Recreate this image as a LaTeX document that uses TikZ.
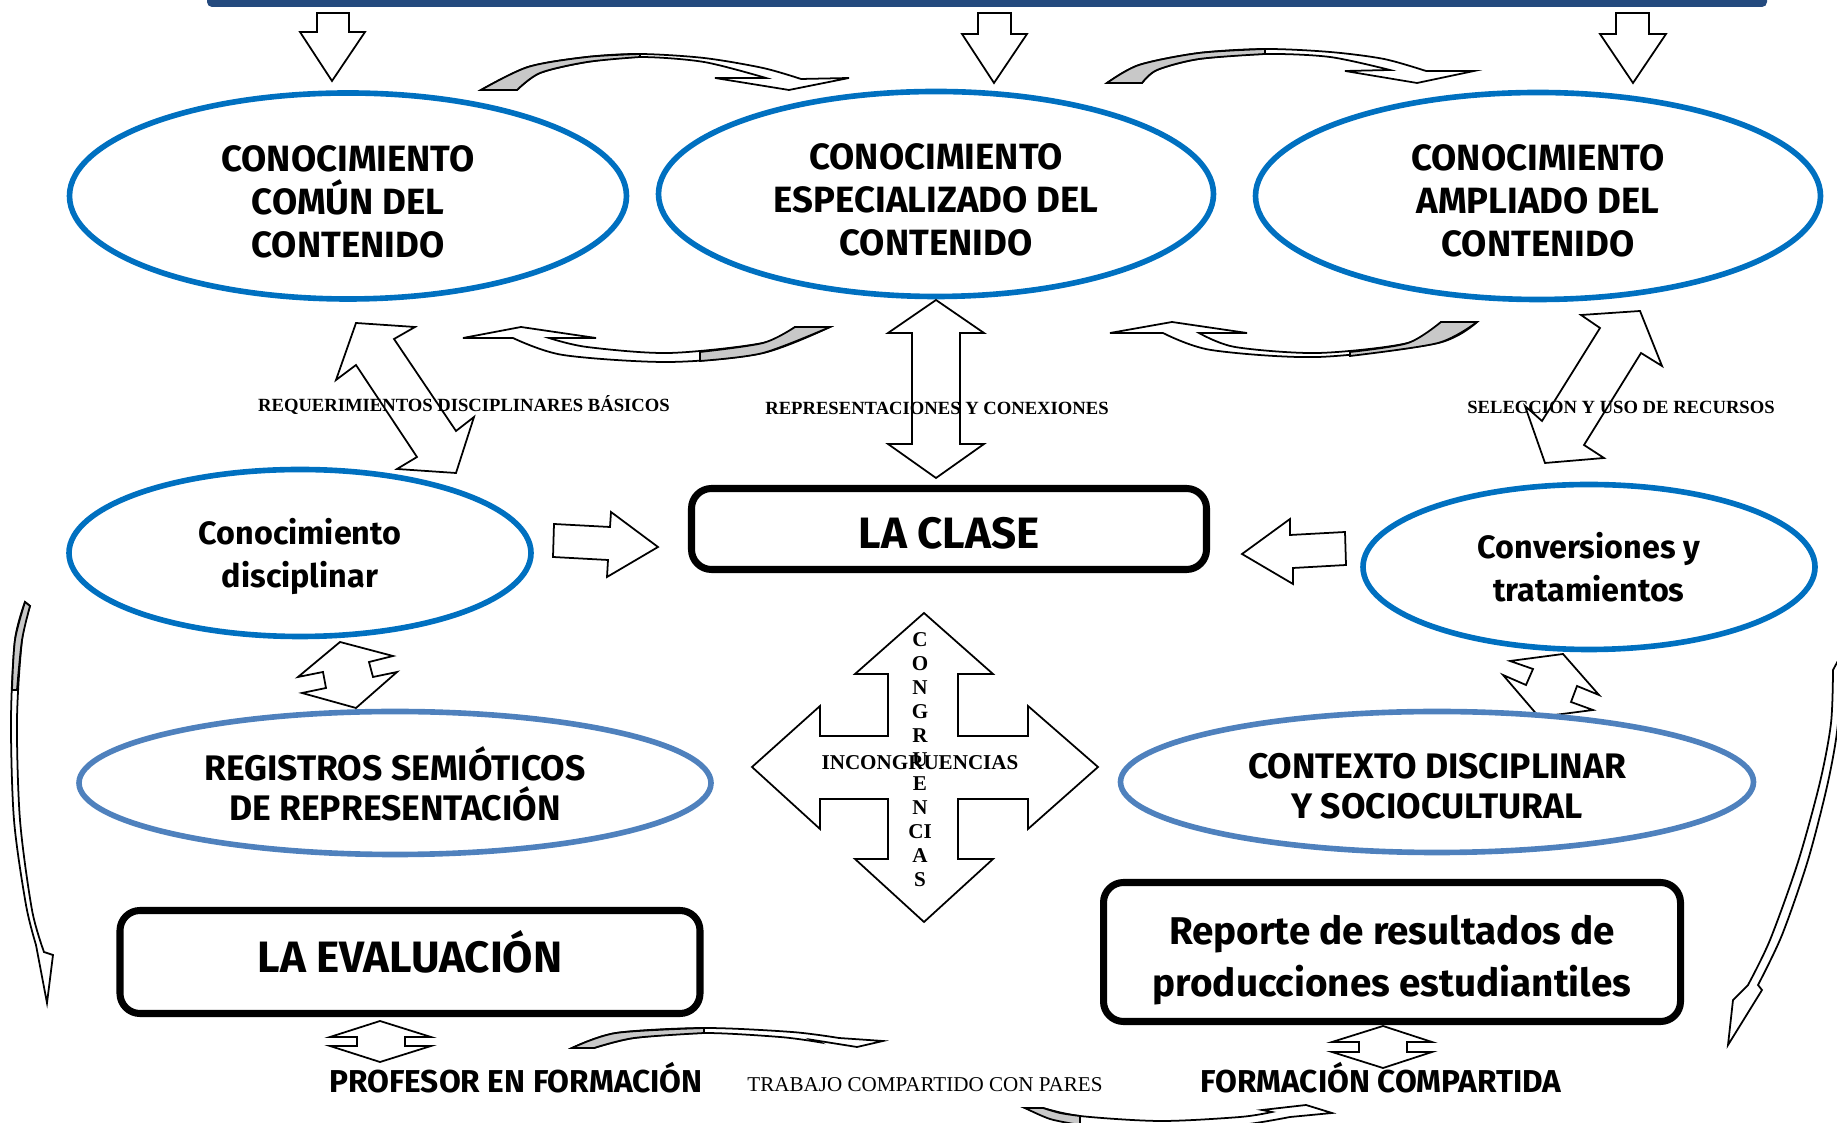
\documentclass[tikz,border=0pt]{standalone}
\usepackage{fontspec}
\setmainfont{Fira Sans}
\newfontfamily\tms{Liberation Serif}
\usetikzlibrary{shapes.geometric}
\definecolor{barblue}{RGB}{36,74,126}
\definecolor{ringblue}{RGB}{0,112,192}
\definecolor{paleblue}{RGB}{79,129,189}
\definecolor{shade}{RGB}{200,200,200}
\begin{document}
\begin{tikzpicture}[x=0.1mm, y=-0.1mm,
  ell/.style={ellipse, draw=ringblue, line width=1.6pt, inner sep=0pt},
  pale/.style={ell, draw=paleblue},
  box/.style={draw, rounded corners=2mm, line width=2pt, inner sep=0pt},
  blk/.style={draw, fill=white, line width=0.5pt},
  shd/.style={draw, fill=shade, line width=0.5pt},
  fbig/.style={font=\fontsize{10.4}{12.2}\selectfont\bfseries, align=center},
  fmid/.style={font=\fontsize{9.2}{12.4}\selectfont\bfseries, align=center},
  fsem/.style={font=\fontsize{10.1}{11.4}\selectfont\bfseries, align=center},
  fbox/.style={font=\fontsize{12.5}{14}\selectfont\bfseries, align=center},
  frep/.style={font=\fontsize{11}{14.8}\selectfont\bfseries, align=center},
  fbot/.style={font=\fontsize{9}{11}\selectfont\bfseries},
  ftimes/.style={font=\tms\bfseries\fontsize{5.3}{6}\selectfont, inner sep=0pt}]
\useasboundingbox (0,0) rectangle (1837,1123);
\fill[barblue, rounded corners=0.5mm] (207,-20) rectangle (1767,7);

\draw[blk] (317,13) -- (349,13) -- (349,32) -- (365,32) -- (332,81) -- (300,32) -- (317,32) -- cycle;
\draw[blk] (978,13) -- (1011,13) -- (1011,34) -- (1027,34) -- (994,83) -- (962,34) -- (978,34) -- cycle;
\draw[blk] (1616,13) -- (1649,13) -- (1649,34) -- (1666,34) -- (1633,83) -- (1600,34) -- (1616,34) -- cycle;

\draw[blk] plot[smooth] coordinates {(517,90) (540,73) (587,62) (640,57) (704,62) (766,78)} -- (715,78) -- (789,90) -- (849,78) -- (801,79) -- plot[smooth] coordinates {(801,79) (763,68) (704,58) (640,54) (587,57) (528,67) (481,90)} -- cycle;
\draw[shd] plot[smooth] coordinates {(481,90) (528,67) (587,57) (640,54)} -- plot[smooth] coordinates {(640,57) (587,62) (540,73) (517,90)} -- cycle;
\draw[blk] plot[smooth] coordinates {(1142,83) (1157,70) (1199,59) (1265,54) (1330,57) (1390,70)} -- (1345,71) -- (1417,83) -- (1474,71) -- (1426,71) -- plot[smooth] coordinates {(1426,71) (1384,59) (1330,52) (1265,49) (1199,53) (1139,65) (1107,83)} -- cycle;
\draw[shd] plot[smooth] coordinates {(1107,83) (1139,65) (1199,53) (1265,49)} -- plot[smooth] coordinates {(1265,54) (1199,59) (1157,70) (1142,83)} -- cycle;

\node[ell, minimum width=55.7mm, minimum height=20.6mm] (comun) at (348,196) {};
\node[ell, minimum width=55.5mm, minimum height=20.5mm] (espec) at (936,194) {};
\node[ell, minimum width=56.5mm, minimum height=20.7mm] (ampl) at (1538,196) {};
\node[fbig] (comuntxt) at ([yshift=-0.55mm]comun.center) {CONOCIMIENTO\\COMÚN DEL\\CONTENIDO};
\node[fbig] (especTxt) at ([yshift=-0.55mm]espec.center) {CONOCIMIENTO\\ESPECIALIZADO DEL\\CONTENIDO};
\node[fbig] (ampltxt) at ([yshift=-0.5mm]ampl.center) {CONOCIMIENTO\\AMPLIADO DEL\\CONTENIDO};

\draw[blk] plot[smooth] coordinates {(795,327) (763,343) (669,353) (587,347) (549,338)} -- (596,338) -- (521,327) -- (463,338) -- (513,338) -- plot[smooth] coordinates {(513,338) (563,355) (669,362) (763,353) (830,327)} -- cycle;
\draw[shd] plot[smooth] coordinates {(830,327) (763,353) (700,361)} -- plot[smooth] coordinates {(700,352) (763,343) (795,327)} -- cycle;
\draw[blk] plot[smooth] coordinates {(1441,322) (1408,343) (1318,353) (1235,347) (1199,333)} -- (1247,333) -- (1172,322) -- (1110,333) -- (1163,333) -- plot[smooth] coordinates {(1163,333) (1211,350) (1318,357) (1438,343) (1477,322)} -- cycle;
\draw[shd] plot[smooth] coordinates {(1477,322) (1438,343) (1350,356)} -- plot[smooth] coordinates {(1350,352) (1408,343) (1441,322)} -- cycle;

\draw[blk] (356,323) -- (415,327) -- (394,339) -- (456,431) -- (474,417) -- (456,473) -- (397,469) -- (417,457) -- (356,365) -- (336,380) -- cycle;
\draw[blk] (936,300) -- (984,333) -- (960,333) -- (960,444) -- (984,444) -- (936,478) -- (888,444) -- (912,444) -- (912,333) -- (888,333) -- cycle;
\draw[blk] (1581,315) -- (1640,311) -- (1662,366) -- (1641,353) -- (1584,445) -- (1604,458) -- (1545,463) -- (1525,406) -- (1542,421) -- (1600,328) -- cycle;

\node[ftimes] (reqlbl) at (464,405) {REQUERIMIENTOS DISCIPLINARES BÁSICOS};
\node[ftimes] (replbl) at (937,408) {REPRESENTACIONES Y CONEXIONES};
\node[ftimes] (sellbl) at (1621,407) {SELECCION Y USO DE RECURSOS};

\node[ell, minimum width=46.2mm, minimum height=16.7mm] (disc) at (300,553) {};
\node[ell, minimum width=45.2mm, minimum height=16.5mm] (conv) at (1589,567) {};
\node[box, minimum width=51.5mm, minimum height=8.1mm] (clase) at (949,529) {};
\node[fmid] (disctxt) at ([yshift=-0.35mm]disc.center) {Conocimiento\\disciplinar};
\node[fmid] (convtxt) at (conv.center) {Conversiones y\\tratamientos};
\node[fbox] (clasetxt) at ([yshift=-0.45mm]clase.center) {LA CLASE};

\draw[blk] (554,524) -- (610,527) -- (611,512) -- (658,547) -- (607,577) -- (608,560) -- (553,557) -- cycle;
\draw[blk] (1345,532) -- (1290,535) -- (1290,519) -- (1242,554) -- (1293,584) -- (1293,568) -- (1346,565) -- cycle;

\draw[blk] (340,642) -- (393,656) -- (369,662) -- (373,677) -- (397,672) -- (356,708) -- (302,693) -- (326,688) -- (323,672) -- (298,677) -- cycle;
\draw[blk] (1563,654) -- (1599,695) -- (1577,686) -- (1571,702) -- (1593,710) -- (1539,717) -- (1503,675) -- (1526,685) -- (1533,669) -- (1510,661) -- cycle;

\node[pale, minimum width=63.2mm, minimum height=14.3mm] (regis) at (395,783) {};
\node[pale, minimum width=63.3mm, minimum height=14.1mm] (contx) at (1437,782) {};
\node[fsem] (registxt) at ([yshift=-0.1mm]regis.center) {REGISTROS SEMIÓTICOS\\DE REPRESENTACIÓN};
\node[fsem] (contxtxt) at ([yshift=-0.45mm]contx.center) {CONTEXTO DISCIPLINAR\\Y SOCIOCULTURAL};

\draw[blk] (924,613) -- (993,674) -- (958,674) -- (958,736) -- (1028,736) -- (1028,706) -- (1098,767) -- (1028,829) -- (1028,799) -- (958,799) -- (958,859) -- (993,859) -- (924,922) -- (855,859) -- (888,859) -- (888,799) -- (820,799) -- (820,829) -- (752,767) -- (820,706) -- (820,736) -- (888,736) -- (888,674) -- (855,674) -- cycle;
\node[font=\tms\bfseries\fontsize{6}{6.83}\selectfont, inner sep=0pt, align=center] (congr) at (920,760) {C\\O\\N\\G\\R\\U\\E\\N\\CI\\A\\S};
\node[font=\tms\bfseries\fontsize{6}{7}\selectfont, inner sep=0pt] (incong) at (920,763) {INCONGRUENCIAS};

\node[box, minimum width=58mm, minimum height=10.3mm] (evalua) at (410,962) {};
\node[box, minimum width=57.7mm, minimum height=13.9mm] (reporte) at (1392,952) {};
\node[fbox] (evaluatxt) at ([yshift=1.05mm]evalua.center) {LA EVALUACIÓN};
\node[frep] (reportetxt) at ([yshift=-0.85mm]reporte.center) {Reporte de resultados de\\producciones estudiantiles};

\draw[blk] (380,1021) -- (431,1037) -- (405,1037) -- (405,1046) -- (431,1046) -- (380,1062) -- (330,1046) -- (357,1046) -- (357,1037) -- (330,1037) -- cycle;
\draw[blk] (1383,1026) -- (1432,1042) -- (1407,1042) -- (1407,1052) -- (1432,1052) -- (1383,1068) -- (1332,1052) -- (1359,1052) -- (1359,1042) -- (1332,1042) -- cycle;

\draw[blk] plot[smooth] coordinates {(594,1048) (634,1038) (704,1033) (780,1037) (818,1042)} -- (813,1040) -- (857,1047) -- (883,1041) -- (839,1038) -- plot[smooth] coordinates {(839,1038) (792,1032) (704,1028) (616,1033) (572,1048)} -- cycle;
\draw[shd] plot[smooth] coordinates {(572,1048) (616,1033) (704,1028)} -- plot[smooth] coordinates {(704,1033) (634,1038) (594,1048)} -- cycle;
\draw[blk] plot[smooth] coordinates {(1043,1108) (1080,1116) (1160,1121) (1240,1117) (1272,1112)} -- (1262,1110) -- (1306,1105) -- (1332,1113) -- (1290,1117) -- plot[smooth] coordinates {(1290,1117) (1240,1125) (1160,1129) (1080,1125) (1025,1108)} -- cycle;
\draw[shd] plot[smooth] coordinates {(1025,1108) (1050,1119) (1080,1125)} -- plot[smooth] coordinates {(1080,1116) (1060,1113) (1043,1108)} -- cycle;

\draw[blk] plot[smooth] coordinates {(30,606) (22,640) (17,720) (20,820) (32,910) (44,952)} -- (53,955) -- (47,1003) -- (36,945) -- plot[smooth] coordinates {(36,945) (26,905) (14,820) (11,720) (15,640) (25,602)} -- cycle;
\draw[shd] plot[smooth] coordinates {(25,602) (15,640) (12,690)} -- plot[smooth] coordinates {(17,690) (22,640) (30,606)} -- cycle;
\draw[blk] plot[smooth] coordinates {(1833,670) (1831,723) (1820,782) (1798,862) (1770,940) (1748,985)} -- (1733,1000) -- (1728,1045) -- (1762,990) -- (1758,985) -- plot[smooth] coordinates {(1758,985) (1782,935) (1808,860) (1828,782) (1838,723) (1840,657)} -- cycle;

\node[fbot] (prof) at (516,1078) {PROFESOR EN FORMACIÓN};
\node[font=\tms\fontsize{6}{7}\selectfont, inner sep=0pt] (trab) at (925,1085) {TRABAJO COMPARTIDO CON PARES};
\node[fbot] (formc) at (1381,1078) {FORMACIÓN COMPARTIDA};
\end{tikzpicture}
\end{document}
